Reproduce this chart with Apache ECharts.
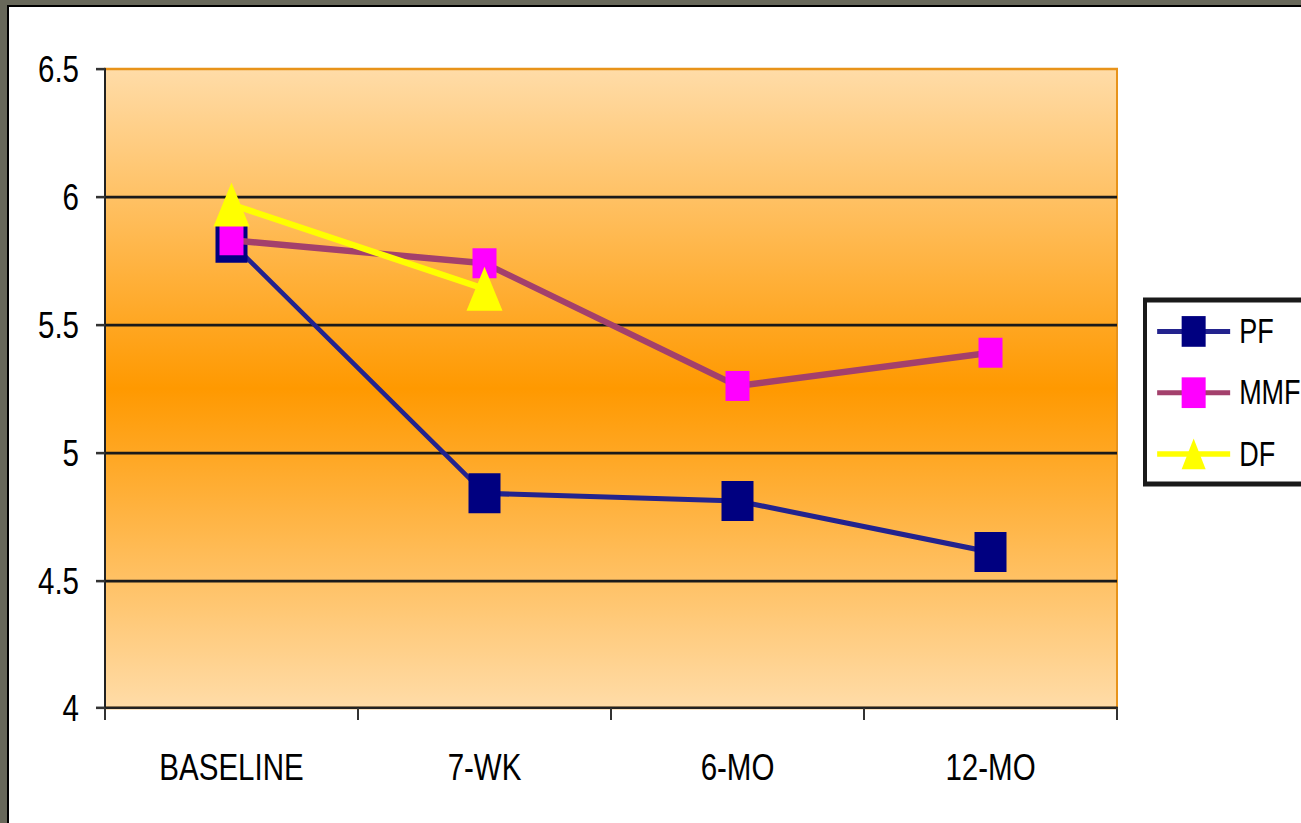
<!DOCTYPE html>
<html>
<head>
<meta charset="utf-8">
<style>
  html, body { margin: 0; padding: 0; background: #fff; width: 1301px; height: 823px; }
  #wrap { position: relative; width: 1301px; height: 823px; }
  /* The chart is laid out on a shorter canvas and stretched vertically,
     giving the tall, narrow lettering and markers of the slide. */
  #chart {
    position: absolute; left: 0; top: 0;
    width: 1301px; height: 643px;
    transform: scale(1, 1.28);
    transform-origin: 0 0;
  }
</style>
<script src="https://cdn.jsdelivr.net/npm/echarts@6/dist/echarts.min.js"></script>
</head>
<body>
<div id="wrap"><div id="chart"></div></div>
<script>
// Time points and mean scores per group
const categories = ['BASELINE', '7-WK', '6-MO', '12-MO'];
const pfValues = [5.82, 4.84, 4.81, 4.61];
const mmfValues = [5.83, 5.74, 5.26, 5.39];
const dfValues = [5.97, 5.64, null, null];
const yTicks = { min: 4, max: 6.5, interval: 0.5 };

const FONT = '"Liberation Sans", Arial, Helvetica, sans-serif';
const SY = 1.28; // vertical stretch applied by CSS

const chart = echarts.init(document.getElementById('chart'), null, { renderer: 'svg' });

chart.setOption({
  backgroundColor: '#ffffff',
  animation: false,
  graphic: [
    // slide frame: grey band with a thin black inner edge
    { type: 'rect', shape: { x: 0, y: 0, width: 1301, height: 5 / SY }, style: { fill: '#68685a' }, z: 100 },
    { type: 'rect', shape: { x: 0, y: 0, width: 7, height: 643 }, style: { fill: '#68685a' }, z: 100 },
    { type: 'rect', shape: { x: 7, y: 5 / SY, width: 1294, height: 2 / SY }, style: { fill: '#000' }, z: 100 },
    { type: 'rect', shape: { x: 7, y: 5 / SY, width: 2, height: 643 }, style: { fill: '#000' }, z: 100 },
    // legend box
    { type: 'rect', shape: { x: 1145, y: 300 / SY, width: 170, height: 184 / SY },
      style: { fill: '#fff', stroke: '#1a1a1a', lineWidth: 4 }, z: 0 }
  ],
  grid: {
    left: 105, top: 69 / SY, right: 184, bottom: 115 / SY,
    show: true,
    borderColor: '#E8931A',
    borderWidth: 2,
    backgroundColor: {
      type: 'linear', x: 0, y: 0, x2: 0, y2: 1,
      colorStops: [
        { offset: 0, color: '#FFDCA8' },
        { offset: 0.5, color: '#FF9900' },
        { offset: 1, color: '#FFDCA8' }
      ]
    }
  },
  legend: {
    orient: 'vertical',
    left: 1155,
    top: 318 / SY - 3,
    padding: 0,
    itemWidth: 73,
    itemHeight: 30,
    itemGap: 61 / SY - 30 + 3.2,
    textStyle: { fontFamily: FONT, fontSize: 27, color: '#000', padding: [0, 0, 0, 4] },
    data: [
      { name: 'PF', lineStyle: { width: 4 } },
      { name: 'MMF', lineStyle: { width: 4 } },
      { name: 'DF', lineStyle: { width: 4.3 } }
    ],
    z: 5
  },
  xAxis: {
    type: 'category',
    data: categories,
    boundaryGap: true,
    axisLine: { show: true, lineStyle: { color: '#222', width: 2 } },
    axisTick: { show: true, length: 12 / SY, lineStyle: { color: '#333', width: 2 } },
    axisLabel: { fontFamily: FONT, fontSize: 29.5, color: '#000', margin: 31 },
    splitLine: { show: false }
  },
  yAxis: {
    type: 'value',
    min: yTicks.min,
    max: yTicks.max,
    interval: yTicks.interval,
    axisLine: { show: true, lineStyle: { color: '#222', width: 2 } },
    axisTick: { show: true, length: 9, lineStyle: { color: '#333', width: 2 } },
    axisLabel: { fontFamily: FONT, fontSize: 29.5, color: '#000', margin: 26 },
    splitLine: { show: true, showMinLine: false, showMaxLine: false, lineStyle: { color: '#1a1a1a', width: 2 } }
  },
  series: [
    {
      name: 'PF', type: 'line', data: pfValues,
      symbol: 'rect', symbolSize: [32, 40 / SY],
      lineStyle: { color: '#23238E', width: 4 },
      itemStyle: { color: '#000080' },
      z: 3
    },
    {
      name: 'MMF', type: 'line', data: mmfValues,
      symbol: 'rect', symbolSize: [24, 30 / SY],
      lineStyle: { color: '#A3406C', width: 5 },
      itemStyle: { color: '#FF00FF' },
      z: 4
    },
    {
      name: 'DF', type: 'line', data: dfValues,
      symbol: 'triangle', symbolSize: [36, 44 / SY],
      lineStyle: { color: '#FFFF00', width: 5 },
      itemStyle: { color: '#FFFF00' },
      z: 5
    }
  ]
});
</script>
</body>
</html>
